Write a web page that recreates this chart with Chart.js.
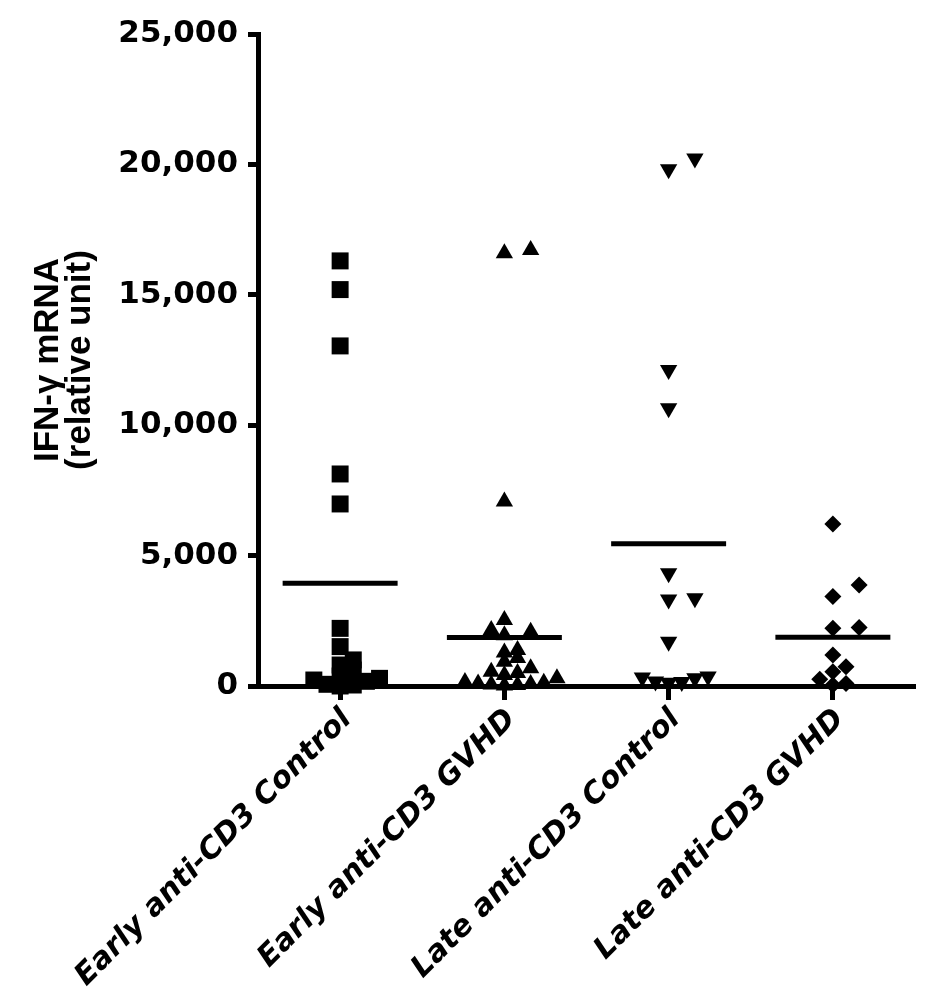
<!DOCTYPE html>
<html>
<head>
<meta charset="utf-8">
<script src="https://cdn.jsdelivr.net/npm/chart.js@4.4.1/dist/chart.umd.min.js"></script>
<style>
  html, body { margin: 0; padding: 0; background: #ffffff; }
  #c { display: block; }
</style>
</head>
<body>
<canvas id="c" width="930" height="1003"></canvas>
<script>
// ---- data ----
const categories = ['Early anti-CD3 Control', 'Early anti-CD3 GVHD', 'Late anti-CD3 Control', 'Late anti-CD3 GVHD'];
const earlyControl = [16300, 15200, 13040, 8130, 6980, 2210, 1510, 1000, 805, 613, 383, 294, 230, 180, 65, 38, 0];
const earlyGVHD = [16720, 16590, 7070, 2530, 2150, 2080, 1950, 1380, 1280, 1070, 930, 680, 550, 500, 420, 300, 150, 120, 100, 80, 60, 40, 20];
const lateControl = [20230, 19810, 12120, 10650, 4320, 3360, 3320, 1700, 360, 330, 300, 170, 150, 120];
const lateGVHD = [6210, 3870, 3430, 2240, 2210, 1190, 740, 550, 260, 100, 40];
const groupMeans = [3940, 1860, 5450, 1870];
const yTicks = [0, 5000, 10000, 15000, 20000, 25000];

// ---- layout helpers (beeswarm-style horizontal spreading) ----
const X_STEP = 0.08;     // horizontal jitter slot, in category units
function swarm(values, center) {
  const placed = [];
  const order = values.map((v, i) => i).sort((a, b) => values[a] - values[b]);
  const out = new Array(values.length);
  for (const i of order) {
    const v = values[i];
    for (let k = 0; k < 100; k++) {
      const slot = k === 0 ? 0 : (k % 2 ? (k + 1) / 2 : -k / 2);
      const hit = placed.some(p => {
        const dv = Math.abs(p.v - v);
        const ds = Math.abs(p.slot - slot);
        const high = v > 3000 && p.v > 3000;
        if (ds === 0) return dv < (high ? 650 : 300);
        if (ds === 1) return dv < (high ? 500 : (v > 1500 ? 200 : 0));
        return false;
      });
      if (!hit) {
        placed.push({ slot, v });
        out[i] = { x: center + slot * X_STEP, y: v };
        break;
      }
    }
  }
  return out;
}

const groups = [earlyControl, earlyGVHD, lateControl, lateGVHD];
const styles = [
  { pointStyle: 'rect', radius: 12, rotation: 0 },
  { pointStyle: 'triangle', radius: 10, rotation: 0 },
  { pointStyle: 'triangle', radius: 10, rotation: 180 },
  { pointStyle: 'rectRot', radius: 8.5, rotation: 0 }
];
const MEAN_HALF = 0.35;

const datasets = [];
groups.forEach((vals, i) => {
  datasets.push({
    type: 'line',
    data: [{ x: i - MEAN_HALF, y: groupMeans[i] }, { x: i + MEAN_HALF, y: groupMeans[i] }],
    borderColor: '#000', borderWidth: 5, pointRadius: 0, showLine: true, clip: false, order: 2
  });
});
groups.forEach((vals, i) => {
  datasets.push({
    type: 'scatter',
    data: swarm(vals, i),
    pointStyle: styles[i].pointStyle,
    pointRadius: styles[i].radius,
    rotation: styles[i].rotation,
    pointBackgroundColor: '#000', pointBorderColor: '#000', pointBorderWidth: 0,
    clip: false, order: 1
  });
});

new Chart(document.getElementById('c'), {
  type: 'scatter',
  data: { datasets },
  options: {
    responsive: false,
    animation: false,
    layout: { padding: { top: 34, right: 15, left: 0, bottom: 0 } },
    plugins: { legend: { display: false }, tooltip: { enabled: false } },
    scales: {
      x: {
        type: 'linear', min: -0.5, max: 3.5,
        afterBuildTicks: s => { s.ticks = categories.map((c, i) => ({ value: i })); },
        afterFit: s => { s.height = 317; },
        ticks: {
          autoSkip: false, minRotation: 45, maxRotation: 45, padding: 2, labelOffset: 7,
          color: '#000',
          font: { family: 'DejaVu Sans', weight: 'bold', style: 'italic', size: 30 },
          callback: v => categories[v]
        },
        grid: { display: true, drawOnChartArea: false, drawTicks: true, tickLength: 14, tickWidth: 5, color: '#000' },
        border: { display: true, width: 5, color: '#000' }
      },
      y: {
        min: 0, max: 25000,
        afterBuildTicks: s => { s.ticks = yTicks.map(v => ({ value: v })); },
        afterFit: s => { s.width = 258; },
        ticks: {
          padding: 10, color: '#000',
          font: { family: 'DejaVu Sans', weight: 'bold', size: 31 },
          callback: v => v.toLocaleString('en-US')
        },
        grid: { display: true, drawOnChartArea: false, drawTicks: true, tickLength: 10, tickWidth: 5, color: '#000' },
        border: { display: true, width: 5, color: '#000' },
        title: {
          display: true,
          text: ['IFN-\u03b3 mRNA', '(relative unit)'],
          color: '#000',
          font: { family: 'Liberation Sans', weight: 'bold', size: 35, lineHeight: 0.92 },
          padding: { top: 32, bottom: 0 }
        }
      }
    }
  }
});
</script>
</body>
</html>
